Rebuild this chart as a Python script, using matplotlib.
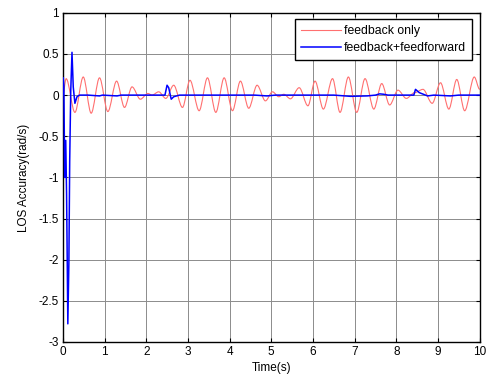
import matplotlib
matplotlib.use('Agg')
import matplotlib.pyplot as plt
from matplotlib.path import Path
from matplotlib.patches import PathPatch
from matplotlib.lines import Line2D

plt.rcParams['font.family'] = ['Liberation Sans', 'DejaVu Sans']
plt.rcParams['font.size'] = 8.5

# feedback only -- turning points of the oscillation
fb_time = [0.00, 0.08, 0.29, 0.49, 0.68, 0.88, 1.08, 1.29, 1.48, 1.66, 1.86,
           2.04, 2.14, 2.30, 2.47, 2.66, 2.87, 3.05, 3.27, 3.47, 3.67, 3.87,
           4.07, 4.26, 4.46, 4.66, 4.86, 5.03, 5.18, 5.30, 5.46, 5.67, 5.88,
           6.05, 6.25, 6.47, 6.65, 6.85, 7.05, 7.25, 7.46, 7.65, 7.84, 8.04,
           8.24, 8.44, 8.64, 8.86, 9.06, 9.26, 9.45, 9.64, 9.87, 10.0]
fb_value = [0.00, 0.20, -0.21, 0.22, -0.22, 0.21, -0.20, 0.17, -0.15, 0.10, -0.05,
            0.02, 0.00, 0.04, -0.04, 0.12, -0.15, 0.18, -0.19, 0.21, -0.21, 0.21,
            -0.19, 0.17, -0.16, 0.12, -0.07, 0.04, -0.02, 0.01, -0.045, 0.09, -0.13,
            0.17, -0.17, 0.20, -0.21, 0.22, -0.21, 0.20, -0.17, 0.14, -0.12, 0.06,
            -0.04, 0.03, 0.07, -0.10, 0.15, -0.17, 0.19, -0.19, 0.22, 0.07]

# feedback+feedforward
ff_time = [0.0, 0.01, 0.025, 0.045, 0.07, 0.09, 0.105, 0.12, 0.145, 0.165, 0.19,
           0.22, 0.25, 0.29, 0.34, 0.40, 0.6, 0.88, 0.95, 1.3, 1.4, 2.45, 2.5,
           2.54, 2.6, 2.66, 2.8, 4.6, 4.9, 5.1, 6.5, 6.9, 7.3, 7.5, 7.6, 7.7,
           7.8, 8.42, 8.46, 8.55, 8.65, 8.75, 8.9, 9.3, 9.5, 10.0]
ff_value = [0.0, 0.21, 0.12, -1.0, -0.55, -1.2, -1.98, -2.78, -2.05, -0.8, 0.05,
            0.52, 0.1, -0.1, -0.02, 0.0, 0.0, -0.01, 0.0, -0.01, 0.0, 0.0, 0.12,
            0.09, -0.05, -0.02, 0.0, 0.0, -0.01, 0.0, 0.0, -0.015, -0.01, 0.0, 0.015, 0.01,
            0.0, 0.0, 0.07, 0.03, 0.01, -0.01, 0.0, -0.01, 0.0, 0.0]

x_ticks = [0, 1, 2, 3, 4, 5, 6, 7, 8, 9, 10]
y_ticks = [-3, -2.5, -2, -1.5, -1, -0.5, 0, 0.5, 1]
y_labels = ['-3', '-2.5', '-2', '-1.5', '-1', '-0.5', '0', '0.5', '1']

red = '#ff7070'
blue = '#0000ff'

fig = plt.figure(figsize=(4.87, 3.77), dpi=100)
ax = fig.add_axes([0.129, 0.093, 0.856, 0.873])

# smooth curve through the turning points (horizontal tangent at each one)
verts = [(fb_time[0], fb_value[0])]
codes = [Path.MOVETO]
for i in range(1, len(fb_time)):
    dt = fb_time[i] - fb_time[i - 1]
    verts += [(fb_time[i - 1] + dt / 3, fb_value[i - 1]),
              (fb_time[i] - dt / 3, fb_value[i]),
              (fb_time[i], fb_value[i])]
    codes += [Path.CURVE4] * 3
ax.add_patch(PathPatch(Path(verts, codes), facecolor='none', edgecolor=red,
                       lw=0.8, zorder=2))

ax.plot(ff_time, ff_value, color=blue, lw=1.1, zorder=3)

ax.set_xlim(0, 10)
ax.set_ylim(-3, 1)
ax.set_xticks(x_ticks)
ax.set_yticks(y_ticks)
ax.set_yticklabels(y_labels)
ax.tick_params(direction='in', length=3, width=0.8, top=True, right=True,
               labelsize=8.5, pad=3)
ax.grid(True, color='#8c8c8c', lw=0.7)
ax.set_axisbelow(True)
for s in ax.spines.values():
    s.set_linewidth(1.0)

ax.set_xlabel('Time(s)', fontsize=8.5, labelpad=3)
ax.set_ylabel('LOS Accuracy(rad/s)', fontsize=8.5, labelpad=6)

handles = [Line2D([], [], color=red, lw=0.8), Line2D([], [], color=blue, lw=1.1)]
leg = ax.legend(handles, ['feedback only', 'feedback+feedforward'],
                loc='upper right', bbox_to_anchor=(0.981, 0.982),
                borderaxespad=0, fancybox=False, framealpha=1,
                edgecolor='black', handlelength=3.3, handletextpad=0.2,
                borderpad=0.5, labelspacing=0.45, fontsize=8.8)
leg.get_frame().set_linewidth(1.0)

fig.savefig('out.png', dpi=100)
